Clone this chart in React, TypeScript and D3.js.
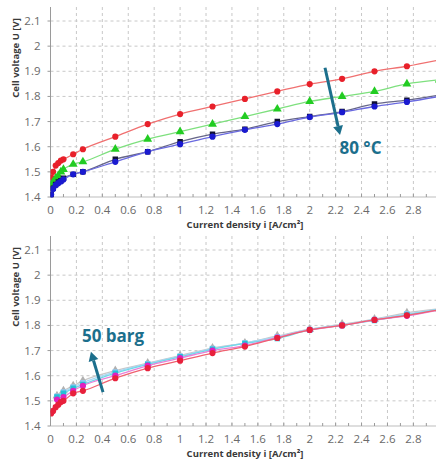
import { useEffect, useRef } from 'react';
import * as d3 from 'd3';

// current density points [A/cm²]
const xLow = [0.005, 0.02, 0.04, 0.06, 0.08, 0.1, 0.175, 0.25];
const xHigh = [0.5, 0.75, 1, 1.25, 1.5, 1.75, 2, 2.25, 2.5, 2.75, 3];
const xAll = [...xLow, ...xHigh];
const xStart = [0.05, 0.1, 0.175, 0.25, ...xHigh];

const xTicks = [0, 0.2, 0.4, 0.6, 0.8, 1, 1.2, 1.4, 1.6, 1.8, 2, 2.2, 2.4, 2.6, 2.8];
const yTicks = [1.4, 1.5, 1.6, 1.7, 1.8, 1.9, 2, 2.1];

// top: temperature series
const tRed = [1.478, 1.5, 1.525, 1.535, 1.545, 1.55, 1.57, 1.59, 1.64, 1.69, 1.73, 1.76, 1.79, 1.82, 1.849, 1.87, 1.9, 1.92, 1.945];
const tGreen = [1.448, 1.46, 1.475, 1.485, 1.5, 1.51, 1.53, 1.54, 1.59, 1.63, 1.66, 1.69, 1.72, 1.75, 1.78, 1.8, 1.82, 1.85, 1.866];
const tBlack = [1.41, 1.435, 1.45, 1.46, 1.465, 1.475, 1.49, 1.5, 1.55, 1.58, 1.62, 1.65, 1.67, 1.7, 1.72, 1.74, 1.77, 1.785, 1.805];
const tBlue = [1.41, 1.432, 1.447, 1.455, 1.462, 1.47, 1.49, 1.5, 1.54, 1.58, 1.61, 1.64, 1.667, 1.69, 1.718, 1.737, 1.76, 1.778, 1.8];

// bottom: pressure series
const pRed = [1.45, 1.46, 1.475, 1.485, 1.495, 1.5, 1.53, 1.54, 1.59, 1.63, 1.66, 1.69, 1.716, 1.75, 1.782, 1.8, 1.822, 1.84, 1.862];
const pMagenta = [1.505, 1.515, 1.54, 1.56, 1.6, 1.64, 1.67, 1.7, 1.72, 1.752, 1.782, 1.8, 1.822, 1.838, 1.862];
const pCyan = [1.515, 1.53, 1.55, 1.565, 1.61, 1.645, 1.675, 1.705, 1.728, 1.748, 1.782, 1.8, 1.82, 1.842, 1.864];
const pGray = [1.52, 1.54, 1.56, 1.58, 1.62, 1.65, 1.68, 1.71, 1.73, 1.758, 1.785, 1.805, 1.825, 1.85, 1.866];
const pBlue = [1.518, 1.535, 1.555, 1.572, 1.615, 1.648, 1.678, 1.708, 1.73, 1.755, 1.784, 1.802, 1.824, 1.846, 1.865];

const topSeries = [
    { xs: xAll, ys: tRed, color: '#e8202a', line: '#f07070', shape: 'circle' },
    { xs: xAll, ys: tGreen, color: '#22cc22', line: '#7ee07e', shape: 'triangle' },
    { xs: xAll, ys: tBlack, color: '#111133', line: '#666688', shape: 'square' },
    { xs: xAll, ys: tBlue, color: '#1a1ad0', line: '#6a6ae0', shape: 'circle' },
];

const bottomSeries = [
    { xs: xStart, ys: pGray, color: '#b0b0b0', line: '#c8c8c8', shape: 'triangle' },
    { xs: xStart, ys: pBlue, color: '#90c8f0', line: '#a8d8f4', shape: 'square' },
    { xs: xStart, ys: pCyan, color: '#22c0d8', line: '#70d8e8', shape: 'square' },
    { xs: xStart, ys: pMagenta, color: '#e020c0', line: '#e880d8', shape: 'circle' },
    { xs: xAll, ys: pRed, color: '#e8203c', line: '#f06070', shape: 'circle' },
];

const teal = '#1c6f8c';

function drawPanel(svg, top, series, note) {
    const x0 = 50.5;
    const x = d3.scaleLinear().domain([0, 3]).range([x0, x0 + 3 * 129.6]);
    const y = d3.scaleLinear().domain([1.4, 2.1]).range([top + 190, top + 14]);
    const plotTop = top;
    const plotBottom = top + 190;

    const g = svg.append('g');
    const clipId = `clip${top}`;
    svg.append('clipPath').attr('id', clipId)
        .append('rect').attr('x', x0).attr('y', plotTop).attr('width', 436 - x0).attr('height', plotBottom - plotTop + 4);

    // grid
    g.selectAll('.vg').data(xTicks.slice(1)).enter().append('line')
        .attr('x1', (d) => x(d)).attr('x2', (d) => x(d))
        .attr('y1', plotTop).attr('y2', plotBottom)
        .attr('stroke', '#c8c8c8').attr('stroke-dasharray', '3,3').attr('stroke-width', 1);
    g.selectAll('.hg').data(yTicks.slice(1)).enter().append('line')
        .attr('x1', x0).attr('x2', 436)
        .attr('y1', (d) => y(d)).attr('y2', (d) => y(d))
        .attr('stroke', '#c8c8c8').attr('stroke-dasharray', '3,3').attr('stroke-width', 1);

    // axes lines
    g.append('line').attr('x1', x0).attr('x2', x0).attr('y1', plotTop).attr('y2', plotBottom)
        .attr('stroke', '#9a9a9a');
    g.append('line').attr('x1', x0).attr('x2', 436).attr('y1', plotBottom).attr('y2', plotBottom)
        .attr('stroke', '#bdbdbd');

    // minor ticks on x
    const minor = d3.range(0, 3.01, 0.1);
    g.selectAll('.mt').data(minor).enter().append('line')
        .attr('x1', (d) => x(d)).attr('x2', (d) => x(d))
        .attr('y1', plotBottom).attr('y2', plotBottom - 3)
        .attr('stroke', '#9a9a9a');
    g.selectAll('.yt').data(yTicks).enter().append('line')
        .attr('x1', x0 - 3).attr('x2', x0)
        .attr('y1', (d) => y(d)).attr('y2', (d) => y(d))
        .attr('stroke', '#9a9a9a');

    // tick labels
    g.selectAll('.xl').data(xTicks).enter().append('text')
        .attr('x', (d) => x(d)).attr('y', plotBottom + 17)
        .attr('text-anchor', 'middle')
        .style('font-family', 'Open Sans, sans-serif').style('font-size', '11.5px').style('fill', '#6a6a6a')
        .text((d) => String(d));
    g.selectAll('.yl').data(yTicks).enter().append('text')
        .attr('x', x0 - 10).attr('y', (d) => y(d) + 4)
        .attr('text-anchor', 'end')
        .style('font-family', 'Open Sans, sans-serif').style('font-size', '11.5px').style('fill', '#6a6a6a')
        .text((d) => String(d));

    // axis titles
    g.append('text')
        .attr('transform', `translate(19,${top + 51}) rotate(-90)`)
        .attr('text-anchor', 'middle')
        .style('font-family', 'Open Sans, sans-serif').style('font-size', '9.5px').style('font-weight', 'bold').style('fill', '#3a3a3a')
        .text('Cell voltage U [V]');
    g.append('text')
        .attr('x', 245).attr('y', plotBottom + 31)
        .attr('text-anchor', 'middle')
        .style('font-family', 'Open Sans, sans-serif').style('font-size', '9.5px').style('font-weight', 'bold').style('fill', '#3a3a3a')
        .text('Current density i  [A/cm²]');

    // series
    const data = g.append('g').attr('clip-path', `url(#${clipId})`);
    series.forEach((s) => {
        const pts = s.xs.map((v, i) => [v, s.ys[i]]);
        const line = d3.line().x((d) => x(d[0])).y((d) => y(d[1])).curve(d3.curveMonotoneX);
        data.append('path').attr('d', line(pts)).attr('fill', 'none')
            .attr('stroke', s.line).attr('stroke-width', 1.3);
        const sym = s.shape === 'circle' ? d3.symbolCircle : s.shape === 'triangle' ? d3.symbolTriangle : d3.symbolSquare;
        const size = s.shape === 'triangle' ? 34 : s.shape === 'square' ? 30 : 30;
        data.selectAll(null).data(pts).enter().append('path')
            .attr('d', d3.symbol().type(sym).size(size))
            .attr('transform', (d) => `translate(${x(d[0])},${y(d[1])})`)
            .attr('fill', s.color);
    });

    // annotation arrow
    const ax1 = x(note.from[0]), ay1 = y(note.from[1]);
    const ax2 = x(note.to[0]), ay2 = y(note.to[1]);
    const ang = Math.atan2(ay2 - ay1, ax2 - ax1);
    const hl = 9, hw = 5;
    const bx = ax2 - hl * Math.cos(ang), by = ay2 - hl * Math.sin(ang);
    g.append('line').attr('x1', ax1).attr('y1', ay1).attr('x2', bx).attr('y2', by)
        .attr('stroke', teal).attr('stroke-width', 3);
    g.append('path')
        .attr('d', `M${ax2},${ay2} L${bx + hw * Math.sin(ang)},${by - hw * Math.cos(ang)} L${bx - hw * Math.sin(ang)},${by + hw * Math.cos(ang)} Z`)
        .attr('fill', teal);
    g.append('text')
        .attr('x', x(note.label[0])).attr('y', y(note.label[1]))
        .style('font-family', 'Open Sans, sans-serif').style('font-size', '17px').style('font-weight', 'bold').style('fill', teal)
        .text(note.text);
}

export default function App() {
    const svgRef = useRef(null);

    useEffect(() => {
        const svg = d3.select(svgRef.current);
        svg.selectAll('*').remove();
        svg.attr('width', 436).attr('height', 459);

        drawPanel(svg, 7, topSeries, { from: [2.118, 1.914], to: [2.234, 1.647], label: [2.23, 1.572], text: '80 °C' });
        drawPanel(svg, 236, bottomSeries, { from: [0.405, 1.535], to: [0.312, 1.695], label: [0.243, 1.735], text: '50 barg' });
    }, []);

    return (
        <div style={{ position: 'fixed', left: 0, top: 0, background: '#fff' }}>
            <svg ref={svgRef} style={{ display: 'block' }}></svg>
        </div>
    );
}
